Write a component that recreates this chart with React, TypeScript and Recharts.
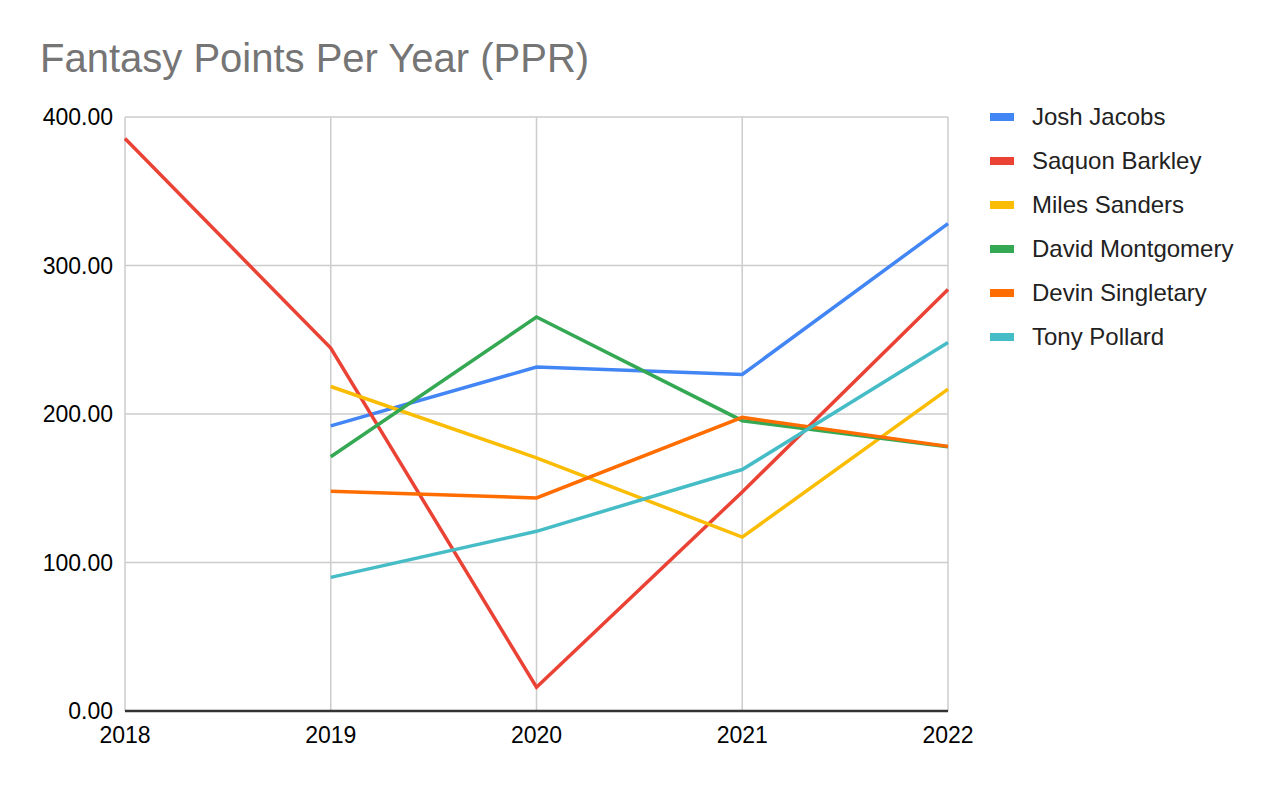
import { LineChart, Line, XAxis, YAxis, CartesianGrid } from "recharts";

if (typeof document !== "undefined") document.body.style.margin = "0";

const years = ["2018", "2019", "2020", "2021", "2022"];

const joshJacobs = [null, 192, 231.6, 226.6, 328.2];
const saquonBarkley = [385.5, 244.4, 16, 147.5, 283.8];
const milesSanders = [null, 218.5, 170.5, 117.1, 216.7];
const davidMontgomery = [null, 171.2, 265.3, 195.5, 177.9];
const devinSingletary = [null, 148, 143.5, 197.7, 178.2];
const tonyPollard = [null, 90, 121, 162.6, 248.2];

const yTicks = [0, 100, 200, 300, 400];

const series = [
  { key: "jacobs", name: "Josh Jacobs", color: "#4285F4", values: joshJacobs },
  { key: "barkley", name: "Saquon Barkley", color: "#EA4335", values: saquonBarkley },
  { key: "sanders", name: "Miles Sanders", color: "#FBBC04", values: milesSanders },
  { key: "montgomery", name: "David Montgomery", color: "#34A853", values: davidMontgomery },
  { key: "singletary", name: "Devin Singletary", color: "#FF6D01", values: devinSingletary },
  { key: "pollard", name: "Tony Pollard", color: "#46BDC6", values: tonyPollard },
];

const data = years.map((year, i) => {
  const row: Record<string, string | number | null> = { year };
  series.forEach((s) => {
    row[s.key] = s.values[i];
  });
  return row;
});

const font = "Arial, 'Liberation Sans', Helvetica, sans-serif";

export default function App() {
  return (
    <div style={{ position: "relative", width: 1272, height: 786, background: "#fff", fontFamily: font }}>
      <div
        style={{
          position: "absolute",
          left: 40,
          top: 34,
          fontSize: 40,
          lineHeight: "48px",
          color: "#757575",
          whiteSpace: "nowrap",
        }}
      >
        Fantasy Points Per Year (PPR)
      </div>
      <LineChart
        width={1272}
        height={786}
        data={data}
        margin={{ top: 117, right: 324, bottom: 35, left: 0 }}
      >
        <CartesianGrid stroke="#cccccc" strokeWidth={1.5} />
        <XAxis
          dataKey="year"
          axisLine={{ stroke: "#333333", strokeWidth: 2.5 }}
          tickLine={false}
          tickSize={0}
          tickMargin={16}
          height={40}
          tick={{ fill: "#000", fontSize: 23, fontFamily: font }}
        />
        <YAxis
          domain={[0, 400]}
          ticks={yTicks}
          axisLine={false}
          tickLine={false}
          tickSize={0}
          tickMargin={12}
          width={125}
          tickFormatter={(v: number) => v.toFixed(2)}
          tick={{ fill: "#000", fontSize: 23, fontFamily: font }}
        />
        {series.map((s) => (
          <Line
            key={s.key}
            dataKey={s.key}
            name={s.name}
            stroke={s.color}
            strokeWidth={3.5}
            dot={false}
            activeDot={false}
            connectNulls={false}
            isAnimationActive={false}
          />
        ))}
      </LineChart>
      <div style={{ position: "absolute", left: 990, top: 95 }}>
        {series.map((s) => (
          <div key={s.key} style={{ display: "flex", alignItems: "center", height: 44 }}>
            <div style={{ width: 24, height: 8, background: s.color, marginRight: 18 }} />
            <span style={{ fontSize: 24, color: "#222", whiteSpace: "nowrap" }}>{s.name}</span>
          </div>
        ))}
      </div>
    </div>
  );
}
